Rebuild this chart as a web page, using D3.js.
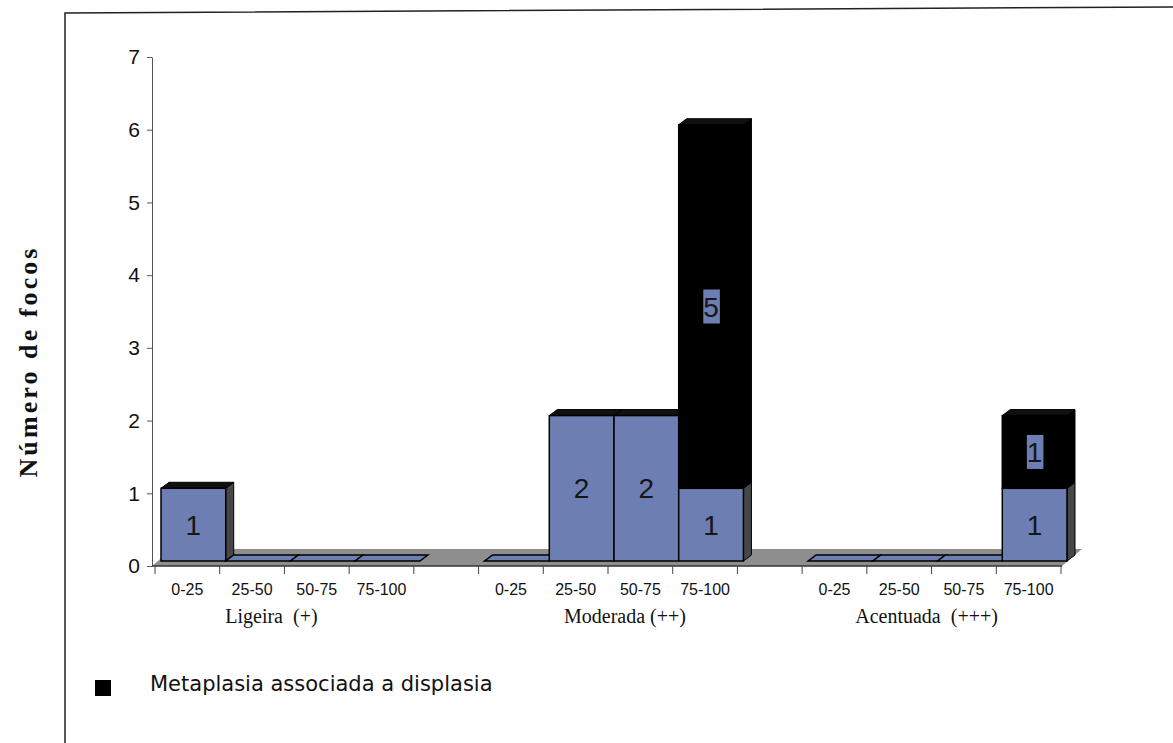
<!DOCTYPE html>
<html>
<head>
<meta charset="utf-8">
<script src="https://cdn.jsdelivr.net/npm/d3@7"></script>
<style>
  body { margin: 0; background: #fff; }
</style>
</head>
<body>
<div id="chart"></div>
<script>
/* global d3 */

// Data
const groups = ['Ligeira  (+)', 'Moderada (++)', 'Acentuada  (+++)']
const bins = ['0-25', '25-50', '50-75', '75-100']
// metaplasia without displasia (blue), group by group
const semDisplasia = [1, 0, 0, 0, 0, 2, 2, 1, 0, 0, 0, 1]
// metaplasia associada a displasia (black)
const comDisplasia = [0, 0, 0, 0, 0, 0, 0, 5, 0, 0, 0, 1]
const yTicks = [0, 1, 2, 3, 4, 5, 6, 7]
const legendLabel = 'Metaplasia associada a displasia'
const yTitle = 'Número de focos'

// Our canvas
const width = 1173,
  height = 743

const depth = {x: 8, y: -6}        // bar depth
const lift = {x: 6, y: -5}         // bars stand a bit back on the floor
const floorDepth = {x: 20, y: -17}
const groupLabelShift = [-13, 17, -5]
const blue = '#6d7fb2'
const sans = 'Liberation Sans, Arial, sans-serif',
  serif = 'Liberation Serif, Times New Roman, serif'

// 4 slots per group, one empty slot between groups
let slots = []
groups.forEach((g, gi) => {
  bins.forEach(b => slots.push(g + '|' + b))
  if (gi < groups.length - 1) slots.push('gap' + gi)
})

let rows = []
groups.forEach((g, gi) => bins.forEach((b, bi) => {
  let i = gi * bins.length + bi
  rows.push({key: g + '|' + b, group: gi, bin: b, sem: semDisplasia[i], com: comDisplasia[i]})
}))

const xScale = d3.scaleBand().domain(slots).range([155, 1061])
const yScale = d3.scaleLinear().domain([0, 7]).range([566, 57])
const bw = xScale.bandwidth()
const Y = v => yScale(v) + lift.y

let svg = d3.select('#chart')
  .append('svg')
  .attr('width', width)
  .attr('height', height)

let poly = pts => 'M' + pts.map(p => p.join(',')).join('L') + 'Z'

// page frame
svg.append('path')
  .attr('d', 'M1173,7L65,13L65,743')
  .attr('fill', 'none')
  .attr('stroke', '#222')
  .attr('stroke-width', 1.5)

// floor
let fx0 = xScale.range()[0] - 3,
  fx1 = xScale.range()[1] + 1,
  fy = yScale(0)
svg.append('path')
  .attr('d', poly([[fx0, fy], [fx1, fy], [fx1 + floorDepth.x, fy + floorDepth.y], [fx0 + floorDepth.x, fy + floorDepth.y]]))
  .attr('fill', '#8e8e8e')

// y axis
let yAxis = svg.append('g')
  .attr('transform', 'translate(152,0)')
  .call(d3.axisLeft(yScale).tickValues(yTicks).tickSize(5).tickSizeOuter(0).tickPadding(7).tickFormat(d3.format('d')))
yAxis.select('.domain').attr('stroke', '#555')
yAxis.selectAll('.tick line').attr('stroke', '#555')
yAxis.selectAll('.tick text')
  .style('font-size', '21px')
  .style('font-family', sans)
  .attr('fill', '#111')

// x axis line and slot ticks
svg.append('line')
  .attr('x1', fx0).attr('x2', fx1)
  .attr('y1', fy).attr('y2', fy)
  .attr('stroke', '#333')
  .attr('stroke-width', 1.5)

let boundaries = d3.range(slots.length + 1).map(i => xScale.range()[0] + i * bw)
svg.selectAll('line.xtick')
  .data(boundaries)
  .enter()
  .append('line')
  .attr('class', 'xtick')
  .attr('x1', d => d).attr('x2', d => d)
  .attr('y1', fy).attr('y2', fy + 8)
  .attr('stroke', '#444')

// bars, left to right
rows.forEach(r => {
  let x0 = xScale(r.key) + lift.x,
    x1 = x0 + bw,
    total = r.sem + r.com
  let g = svg.append('g')

  if (total === 0) {
    let yb = Y(0)
    g.append('path')
      .attr('d', poly([[x0, yb], [x1, yb], [x1 + depth.x, yb + depth.y], [x0 + depth.x, yb + depth.y]]))
      .attr('fill', blue)
      .attr('stroke', '#000')
      .attr('stroke-width', 1.5)
    return
  }

  let segs = [
    {v0: 0, v1: r.sem, fill: blue, side: '#474747', label: 'plain'},
    {v0: r.sem, v1: total, fill: '#000', side: '#000', label: 'box'}
  ].filter(s => s.v1 > s.v0)

  segs.forEach(s => {
    g.append('path')
      .attr('d', poly([[x1, Y(s.v0)], [x1, Y(s.v1)], [x1 + depth.x, Y(s.v1) + depth.y], [x1 + depth.x, Y(s.v0) + depth.y]]))
      .attr('fill', s.side)
      .attr('stroke', '#000')
  })

  let yt = Y(total)
  g.append('path')
    .attr('d', poly([[x0, yt], [x1, yt], [x1 + depth.x, yt + depth.y], [x0 + depth.x, yt + depth.y]]))
    .attr('fill', '#111')
    .attr('stroke', '#000')

  segs.forEach(s => {
    g.append('rect')
      .attr('x', x0)
      .attr('y', Y(s.v1))
      .attr('width', bw)
      .attr('height', Y(s.v0) - Y(s.v1))
      .attr('fill', s.fill)
      .attr('stroke', '#000')
      .attr('stroke-width', 1.5)

    let cx = x0 + bw / 2,
      cy = (Y(s.v0) + Y(s.v1)) / 2
    let t = g.append('text')
      .attr('x', cx)
      .attr('y', cy)
      .attr('dy', '0.36em')
      .attr('text-anchor', 'middle')
      .style('font-family', sans)
      .style('font-size', '28px')
      .attr('fill', '#161616')
      .text(s.v1 - s.v0)
    if (s.label === 'box') {
      let bb = t.node().getBBox()
      g.insert('rect', () => t.node())
        .attr('x', bb.x)
        .attr('y', cy - 17)
        .attr('width', bb.width + 1)
        .attr('height', 34)
        .attr('fill', blue)
    }
  })
})

// bin labels
svg.selectAll('text.bin')
  .data(rows)
  .enter()
  .append('text')
  .attr('class', 'bin')
  .attr('x', d => xScale(d.key) + bw / 2)
  .attr('y', 595)
  .attr('text-anchor', 'middle')
  .style('font-family', sans)
  .style('font-size', '16px')
  .attr('fill', '#111')
  .text(d => d.bin)

// group labels
svg.selectAll('text.group')
  .data(groups)
  .enter()
  .append('text')
  .attr('class', 'group')
  .attr('x', (d, i) => {
    let a = xScale(d + '|' + bins[0]),
      b = xScale(d + '|' + bins[bins.length - 1]) + bw
    return (a + b) / 2 + groupLabelShift[i]
  })
  .attr('y', 623)
  .attr('text-anchor', 'middle')
  .style('font-family', serif)
  .style('font-size', '20px')
  .style('white-space', 'pre')
  .attr('fill', '#111')
  .text(d => d)

// y title
svg.append('text')
  .attr('transform', 'translate(37,363) rotate(-90)')
  .attr('text-anchor', 'middle')
  .style('font-family', serif)
  .style('font-weight', 'bold')
  .style('font-size', '26px')
  .attr('textLength', 229)
  .attr('lengthAdjust', 'spacing')
  .attr('fill', '#111')
  .text(yTitle)

// legend
svg.append('rect')
  .attr('x', 95).attr('y', 680)
  .attr('width', 16).attr('height', 16)
  .attr('fill', '#000')
svg.append('text')
  .attr('x', 150)
  .attr('y', 691)
  .style('font-family', 'DejaVu Sans, Verdana, sans-serif')
  .style('font-size', '21px')
  .attr('fill', '#111')
  .text(legendLabel)
</script>
</body>
</html>
